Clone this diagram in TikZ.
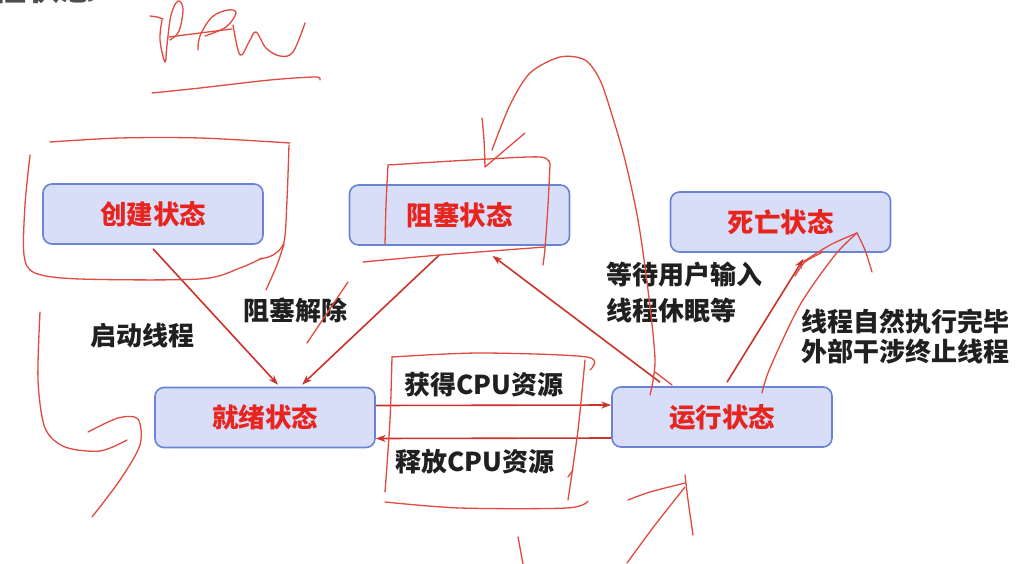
\documentclass[tikz,border=0pt]{standalone}
\usepackage{fontspec}
\setmainfont{Noto Sans CJK SC}
\usetikzlibrary{arrows.meta}
\definecolor{boxfill}{HTML}{D8DEF8}
\definecolor{boxdraw}{HTML}{6B83D3}
\definecolor{statered}{HTML}{E8241E}
\definecolor{arrowred}{HTML}{CC332C}
\definecolor{inkred}{HTML}{E04A40}
\definecolor{labelblack}{HTML}{202020}
\tikzset{
  statebox/.style={draw=boxdraw, line width=1.6pt, fill=boxfill, rounded corners=9pt,
    minimum width=220pt, minimum height=60pt, inner sep=0pt,
    text=statered, font=\fontsize{26.5}{30}\selectfont\bfseries},
  lbl/.style={text=labelblack, font=\fontsize{26}{36}\selectfont\bfseries, inner sep=0pt, align=left},
  conn/.style={draw=arrowred, line width=1.6pt, -{Stealth[length=10pt,width=7pt]}},
  scrib/.style={draw=inkred, line width=1.3pt, line cap=round, line join=round}
}
\begin{document}
\begin{tikzpicture}[x=1pt,y=-1pt]
\useasboundingbox (0,0) rectangle (1025,564);
\fill[white] (0,0) rectangle (1025,564);
\begin{scope}
\clip (0,0) rectangle (1025,564);
\node[anchor=south east, text=labelblack!80, font=\fontsize{34}{40}\selectfont\bfseries, inner sep=0pt] (title) at (95,4) {程状态};
\end{scope}

% state boxes
\node[statebox] (create) at (153,214) {创建状态};
\node[statebox] (block) at (459.5,215) {阻塞状态};
\node[statebox] (death) at (780.5,222) {死亡状态};
\node[statebox] (ready) at (265,417.5) {就绪状态};
\node[statebox] (run) at (722,417) {运行状态};

% connectors
\draw[conn] ([yshift=-4pt]create.south) -- ([xshift=13pt,yshift=2pt]ready.north);
\draw[conn] ([xshift=-20pt,yshift=-9pt]block.south) -- ([xshift=37pt,yshift=2pt]ready.north);
\draw[conn] ([xshift=-62pt,yshift=4pt]run.north) -- ([xshift=33pt,yshift=-10pt]block.south);
\draw[conn] ([xshift=5pt,yshift=4pt]run.north) -- ([xshift=23pt,yshift=-6pt]death.south);
\draw[conn] ([yshift=12pt]ready.east) -- ([yshift=12pt]run.west);
\draw[conn] ([yshift=-21pt]run.west) -- ([yshift=-21pt]ready.east);

% labels
\node[lbl] (l1) at (142,336) {启动线程};
\node[lbl] (l2) at (295,310) {阻塞解除};
\node[lbl] (l3) at (484,385) {获得CPU资源};
\node[lbl] (l4) at (475,462) {释放CPU资源};
\node[lbl, anchor=west] (l5) at (606,293) {等待用户输入\\线程休眠等};
\node[lbl, anchor=west] (l6) at (801,337) {线程自然执行完毕\\[-6pt]外部干涉终止线程};

% hand-drawn annotations
% "Paw"
\draw[scrib] plot[smooth] coordinates {(150,16) (157,17) (163,19)};
\draw[scrib] plot[smooth, tension=0.6] coordinates {(162,20) (160,40) (165,62) (167,45) (171,15) (178,1) (183,9) (179,31) (170,40)};
\draw[scrib] plot[smooth] coordinates {(169,37) (200,33) (232,29)};
\draw[scrib] plot[smooth, tension=0.6] coordinates {(198,50) (200,36) (212,17) (228,10) (236,13) (226,27) (205,36)};
\draw[scrib] plot[smooth, tension=0.6] coordinates {(233,25) (240,55) (249,42) (256,32) (266,48) (280,56) (293,52) (305,23)};
\draw[scrib] plot[smooth] coordinates {(152,93) (200,88) (270,80) (315,77) (320,80)};
% around 创建状态
\draw[scrib] plot[smooth] coordinates {(50,142) (120,138) (200,138) (290,143)};
\draw[scrib] plot[smooth] coordinates {(289,145) (287,200) (284,242) (273,255) (260,259)};
\draw[scrib] plot[smooth] coordinates {(284,244) (277,265) (266,290)};
\draw[scrib] plot[smooth] coordinates {(30,155) (25,205) (24,255) (35,273) (80,279) (200,279) (240,268) (262,258)};
% left hook
\draw[scrib] plot[smooth] coordinates {(40,312) (38,380) (45,428) (65,447) (100,451) (127,440)};
\draw[scrib] plot[smooth] coordinates {(88,432) (118,418) (138,419) (140,445) (120,480) (92,517)};
% strike
\draw[scrib] (348,282) -- (307,343);
% around 阻塞状态
\draw[scrib] plot[smooth] coordinates {(388,165) (386,205) (385,244)};
\draw[scrib] plot[smooth] coordinates {(388,165) (470,160) (540,157) (550,165)};
\draw[scrib] plot[smooth] coordinates {(550,165) (548,205) (545,248) (543,265)};
\draw[scrib] plot[smooth] coordinates {(363,262) (440,255) (545,247)};
% big loop
\draw[scrib] plot[smooth] coordinates {(492,150) (510,105) (530,73) (560,57) (585,60) (600,80) (612,115) (625,160) (638,220) (648,290) (655,360) (650,395)};
\draw[scrib] plot[smooth] coordinates {(482,118) (484,140) (485,167)};
\draw[scrib] plot[smooth] coordinates {(485,167) (505,150) (525,133)};
\draw[scrib] (655,372) -- (672,385);
% around CPU labels
\draw[scrib] plot[smooth] coordinates {(392,357) (480,353) (587,357) (590,370)};
\draw[scrib] plot[smooth] coordinates {(392,357) (390,420) (385,492)};
\draw[scrib] plot[smooth] coordinates {(585,360) (578,430) (568,500)};
\draw[scrib] (568,477) -- (573,470);
\draw[scrib] plot[smooth] coordinates {(385,502) (460,508) (567,508) (588,501)};
% bottom
\draw[scrib] (518,537) -- (523,564);
\draw[scrib] plot[smooth] coordinates {(627,563) (655,525) (685,487)};
\draw[scrib] plot[smooth] coordinates {(628,500) (650,492) (685,483)};
\draw[scrib] plot[smooth] coordinates {(685,475) (688,500) (693,535)};
% right near 死亡状态
\draw[scrib] plot[smooth] coordinates {(762,393) (770,368) (800,305) (835,255) (857,233)};
\draw[scrib] plot[smooth] coordinates {(803,262) (830,245) (857,233)};
\draw[scrib] plot[smooth] coordinates {(857,233) (865,250) (872,272)};
\draw[scrib] plot[smooth] coordinates {(795,276) (805,262) (823,252)};
\end{tikzpicture}
\end{document}
